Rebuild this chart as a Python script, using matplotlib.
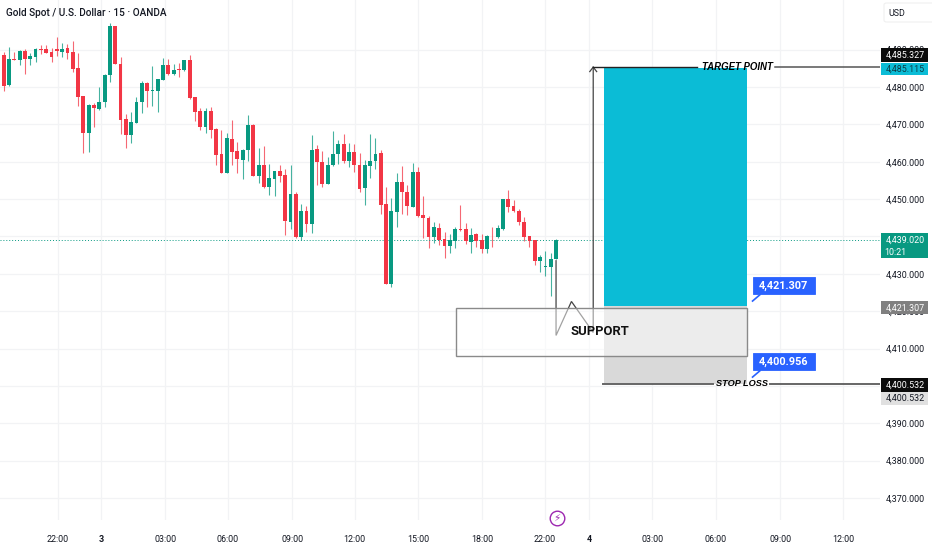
import matplotlib
matplotlib.use("Agg")
import matplotlib.pyplot as plt
from matplotlib.patches import Rectangle, FancyBboxPatch

plt.rcParams['font.family'] = ['Noto Sans', 'DejaVu Sans']
SCALEF = ['Roboto', 'DejaVu Sans']
LIB = ['Liberation Sans', 'DejaVu Sans']

title = "Gold Spot / U.S. Dollar · 15 · OANDA"

highs = [4491.3,4489.5,4490.8,4489.5,4489.9,4490.1,4489.0,4490.4,4491.2,4491.2,4490.4,4493.5,4491.7,4491.5,4492.3,4489.0,4477.6,4475.5,4475.6,4479.9,4483.5,4497.1,4496.3,4488.0,4472.8,4473.4,4477.3,4481.6,4481.4,4485.5,4482.1,4487.7,4487.4,4486.1,4486.5,4487.2,4488.6,4477.4,4474.3,4474.3,4474.6,4469.0,4468.5,4467.6,4471.2,4465.2,4463.3,4472.4,4470.1,4463.6,4464.2,4459.4,4457.6,4459.0,4458.0,4459.1,4452.0,4448.6,4448.1,4467.1,4464.5,4463.0,4461.2,4468.1,4465.8,4467.4,4464.9,4464.7,4462.4,4460.5,4467.4,4466.3,4463.1,4453.3,4450.2,4456.9,4458.9,4453.8,4459.6,4458.5,4450.8,4445.5,4443.8,4443.7,4441.3,4440.6,4442.6,4448.4,4443.5,4442.2,4440.8,4440.7,4440.4,4442.4,4443.1,4449.9,4452.3,4449.8,4447.3,4445.3,4440.1,4439.0,4435.0,4436.2,4435.7,4439.4]
body_tops = [4488.6,4488.6,4487.5,4487.4,4489.7,4489.7,4488.4,4490.1,4490.1,4490.1,4489.3,4490.3,4490.3,4490.4,4489.3,4485.2,4477.6,4475.2,4475.3,4476.1,4483.3,4496.3,4496.3,4486.2,4471.5,4470.6,4475.9,4481.0,4481.0,4479.2,4482.1,4485.9,4485.9,4484.6,4484.6,4487.2,4487.2,4477.2,4473.6,4473.6,4473.6,4468.7,4462.1,4466.4,4466.0,4462.9,4463.2,4469.8,4469.8,4459.1,4459.1,4455.6,4457.5,4457.5,4456.4,4451.4,4451.4,4446.7,4446.7,4463.1,4463.3,4460.0,4459.0,4462.2,4464.7,4464.7,4462.6,4462.6,4459.1,4459.0,4460.3,4462.2,4462.4,4448.7,4446.8,4454.6,4454.6,4452.0,4457.2,4457.2,4445.8,4445.0,4442.4,4442.3,4439.2,4439.0,4442.0,4442.1,4442.0,4440.5,4440.6,4439.0,4440.1,4440.1,4442.3,4449.9,4449.9,4448.2,4446.9,4443.9,4440.1,4439.0,4434.6,4431.9,4434.0,4439.0]
body_bots = [4485.0,4480.3,4480.5,4487.3,4487.2,4487.4,4487.4,4488.0,4489.9,4489.2,4487.9,4489.7,4489.5,4489.1,4484.8,4477.4,4467.6,4467.6,4474.5,4474.2,4476.0,4483.2,4486.2,4471.2,4467.2,4467.2,4470.5,4475.9,4478.9,4478.8,4478.9,4481.9,4483.5,4483.5,4484.5,4484.6,4477.0,4473.3,4469.2,4469.3,4468.5,4461.8,4456.9,4456.9,4462.6,4460.6,4460.5,4463.2,4456.2,4456.2,4453.3,4453.3,4455.5,4456.3,4444.1,4443.9,4439.9,4439.9,4443.2,4443.2,4460.0,4454.0,4454.0,4459.0,4462.2,4460.2,4460.2,4459.1,4452.7,4453.0,4458.9,4460.2,4448.5,4427.2,4427.2,4446.6,4451.9,4448.2,4448.0,4445.6,4445.0,4439.9,4439.9,4439.0,4437.4,4437.4,4438.9,4441.8,4438.7,4438.6,4438.9,4436.7,4436.7,4440.0,4439.8,4442.1,4448.0,4446.8,4443.9,4439.9,4438.9,4433.4,4433.4,4431.8,4431.7,4434.0]
lows = [4484.1,4478.9,4480.3,4487.2,4485.9,4483.5,4485.9,4486.6,4488.9,4489.0,4486.8,4488.3,4488.0,4487.5,4484.1,4474.8,4462.4,4462.7,4469.2,4473.9,4474.6,4481.4,4486.2,4467.4,4463.8,4465.1,4470.3,4473.0,4474.6,4474.9,4473.2,4481.9,4483.2,4483.2,4482.6,4484.4,4476.9,4471.0,4468.5,4467.6,4466.4,4459.2,4456.9,4456.9,4459.1,4457.1,4455.5,4460.2,4456.2,4454.4,4453.1,4451.0,4450.8,4454.7,4440.4,4441.9,4439.7,4439.0,4441.3,4441.0,4453.8,4453.3,4454.0,4458.9,4459.4,4459.6,4458.7,4457.3,4452.0,4448.4,4455.6,4458.0,4445.9,4427.2,4426.4,4442.6,4445.9,4445.7,4448.0,4445.3,4439.5,4436.8,4438.2,4437.7,4434.1,4435.5,4437.0,4441.5,4437.9,4435.7,4437.3,4435.7,4435.5,4437.3,4439.7,4441.7,4446.6,4446.6,4443.1,4438.8,4437.3,4432.4,4430.6,4429.5,4424.1,4433.9]
is_up = [1,0,1,0,1,0,1,1,0,0,0,0,1,0,0,0,0,1,0,1,1,1,0,0,0,1,1,1,0,1,1,1,0,1,0,1,0,0,0,1,0,0,0,1,0,0,1,1,0,1,0,1,1,0,0,1,0,1,0,1,0,0,1,1,1,0,1,0,0,1,1,1,0,0,1,1,0,0,1,0,0,0,1,0,0,1,1,0,0,1,0,0,1,0,1,1,0,0,0,0,0,0,1,1,1,1]

price_ticks = [4370,4380,4390,4400,4410,4420,4430,4440,4450,4460,4470,4480,4490]
time_pos = [11.2,19.3,31.4,43.2,55.3,67.1,79.0,91.1,102.9,111.2,123.1,135.1,147.2,159.0]
time_labels = ["22:00","3","03:00","06:00","09:00","12:00","15:00","18:00","22:00","4","03:00","06:00","09:00","12:00"]
bold_labels = {"3","4"}

last_price = 4439.020
countdown = "10:21"
target_line = 4485.327
target_level = 4485.115
entry_level = 4421.307
stop_level = 4400.532
stop_note = 4400.956
support_top = 4420.8
support_bot = 4408.1

UP, DOWN = "#089981", "#f23645"
GRID = "#f2f3f5"
DARK = "#131722"
BLUE = "#2962ff"
PURPLE = "#9c27b0"
FS = 6.4

YMIN, YMAX = 4364.1, 4503.29
fig = plt.figure(figsize=(9.32, 5.5), dpi=100)
ax = fig.add_axes([0, 30/550, 880/932, 520/550])
ax.set_xlim(0.3, 166.0)
ax.set_ylim(YMIN, YMAX)
for s in ax.spines.values():
    s.set_visible(False)
ax.yaxis.tick_right()
ax.set_yticks(price_ticks)
ax.set_yticklabels([f"{p:,.3f}" for p in price_ticks], fontsize=FS, color=DARK, family=SCALEF)
ax.set_xticks(time_pos)
ax.set_xticklabels(time_labels, fontsize=FS, color=DARK, family=SCALEF)
for lab in ax.get_xticklabels():
    if lab.get_text() in bold_labels:
        lab.set_fontweight("bold")
ax.tick_params(axis="both", length=0)
ax.tick_params(axis="y", pad=4.3)
ax.tick_params(axis="x", pad=10.5)
ax.grid(True, color=GRID, lw=0.9, zorder=0)
ax.set_axisbelow(True)

# candles
for i, (h, t, b, l, u) in enumerate(zip(highs, body_tops, body_bots, lows, is_up)):
    c = UP if u else DOWN
    ax.vlines(i, l, h, color=c, lw=0.8, alpha=0.75, zorder=2)
    ax.bar(i, max(t - b, 0.25), bottom=b, width=0.72, color=c, lw=0, zorder=3)

# last price line
ax.axhline(last_price, color=UP, lw=0.7, ls=(0, (1, 2)), zorder=2)

# position tool
ax.fill_between([114, 141], entry_level, target_level, color="#0bbcd6", lw=0, zorder=4)
ax.fill_between([114, 141], stop_level, entry_level, color="#d9d9d9", lw=0, zorder=4)

# hand-drawn path and arrow (under the translucent support box)
path_x = [105.0, 105.0, 107.9, 112.0, 112.0]
path_y = [4433.5, 4413.5, 4422.6, 4414.3, target_line]
ax.plot(path_x, path_y, color="#444444", lw=0.9, zorder=4.5, solid_joinstyle="miter")
ax.plot([111.35, 112.0, 112.65], [target_line - 1.2, target_line, target_line - 1.2], color="#444444", lw=0.9, zorder=6)

# support box
ax.add_patch(Rectangle((86.1, support_bot), 141 - 86.1, support_top - support_bot,
                       facecolor=(1, 1, 1, 0.5), edgecolor="#8a8a8a", lw=1.0, zorder=5))

# target and stop lines
ax.plot([112.0, 131.6], [target_line, target_line], color="#222222", lw=1.0, zorder=6)
ax.plot([146.2, 166.0], [target_line, target_line], color="#555555", lw=1.1, zorder=6)
ax.plot([113.9, 134.6], [stop_level, stop_level], color="#666666", lw=1.4, zorder=6)
ax.plot([145.3, 166.0], [stop_level, stop_level], color="#666666", lw=1.4, zorder=6)
ax.text(139.1, target_line, "TARGET POINT", fontsize=6.9, style="italic", fontweight="bold", color="black",
        ha="center", va="center", zorder=7, family=LIB)
ax.text(140.0, stop_level, "STOP LOSS", fontsize=6.6, style="italic", fontweight="bold", color="black",
        ha="center", va="center", zorder=7, family=LIB)
ax.text(113.3, 4414.5, "SUPPORT", fontsize=9.4, fontweight="bold", color="#111111", ha="center", va="center",
        zorder=7, family=SCALEF)

# blue callouts
def callout(level, text):
    ax.plot([142.0, 143.4], [level + 1.4, level + 3.1], color=BLUE, lw=1.2, zorder=7)
    ax.add_patch(Rectangle((142.1, level + 3.3), 11.6, 4.6, facecolor=BLUE, edgecolor=BLUE, lw=0.6, zorder=8))
    ax.text(147.9, level + 5.55, text, fontsize=7.8, fontweight="bold", color="white", ha="center", va="center",
            zorder=9, family=SCALEF)
callout(entry_level, "4,421.307")
callout(stop_note, "4,400.956")

# price scale tags, pixel geometry of the right-hand scale
def tag(level, text, bg, fg, top_off, height, text_off=0.0, second=None):
    tr = ax.get_yaxis_transform()
    scale = (YMAX - YMIN) / 520
    y_top = level - top_off * scale
    ax.add_patch(Rectangle((881/880, y_top - height * scale), 47/880, height * scale, transform=tr,
                           facecolor=bg, edgecolor="none", clip_on=False, zorder=9))
    ax.text(905.5/880, y_top - (text_off if text_off else height / 2) * scale, text, transform=tr, ha="center",
            va="center", fontsize=FS, color=fg, family=SCALEF, clip_on=False, zorder=10)
    if second:
        ax.text(895/880, y_top - 19 * scale, second, transform=tr, ha="center", va="center",
                fontsize=FS, color=fg, family=SCALEF, clip_on=False, zorder=10)

tag(target_line, f"{target_line:,.3f}", "#0b0b0b", "white", -19, 14)
tag(target_level, f"{target_level:,.3f}", "#0bbcd6", "#0b3a44", -5, 12)
tag(last_price, f"{last_price:,.3f}", UP, "white", -7, 25, text_off=7, second=countdown)
tag(entry_level, f"{entry_level:,.3f}", "#808080", "white", -5, 13)
tag(stop_level, f"{stop_level:,.3f}", "#0b0b0b", "white", -6, 14)
tag(stop_level, f"{stop_level:,.3f}", "#e0e0e0", DARK, 8, 13)

# session-break icon
ax.plot([105.2], [4364.7], marker="o", ms=10.5, mfc="white", mec=PURPLE, mew=1.0, clip_on=False, zorder=9)
ax.text(105.2, 4364.7, "\u26a1", fontsize=7.5, color=PURPLE, family="DejaVu Sans", ha="center", va="center",
        clip_on=False, zorder=10)

# currency button
fig.add_artist(FancyBboxPatch((884/932, 1 - 22/550), 60/932, 19/550, boxstyle="round,pad=0,rounding_size=0.003",
                              transform=fig.transFigure, fc="white", ec="#f0f0f0", lw=0.8))
fig.text(897/932, 1 - 14/550, "USD", fontsize=FS, color=DARK, va="center", ha="center", family=SCALEF)
fig.text(6/932, 1 - 13/550, title, fontsize=7.2, color=DARK, va="center", ha="left", family=SCALEF, fontweight="medium")

plt.savefig("out.png", dpi=100)
